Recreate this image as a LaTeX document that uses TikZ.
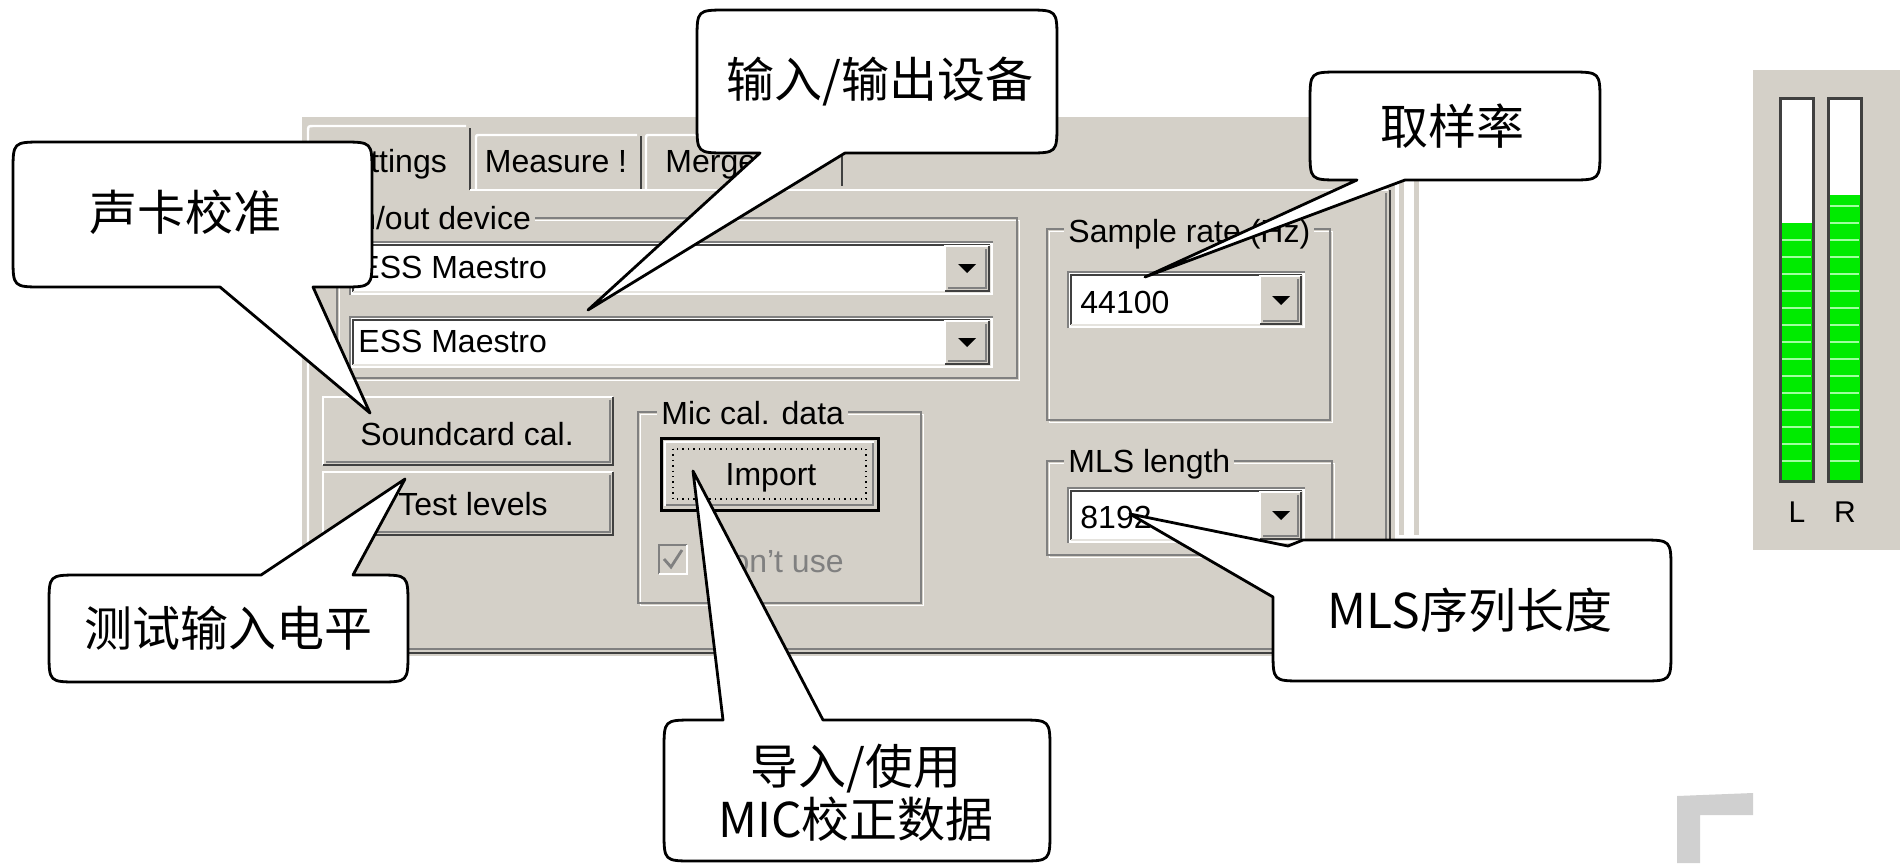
\documentclass[tikz,border=0pt]{standalone}
\usepackage{fontspec}
\setmainfont{Liberation Sans}
\newfontfamily\cjk{Noto Sans CJK SC}
\definecolor{panel}{RGB}{212,208,200}
\definecolor{shadow}{RGB}{128,128,128}
\definecolor{dkshadow}{RGB}{64,64,64}
\definecolor{meter}{RGB}{0,235,0}
\definecolor{meterline}{RGB}{160,255,160}
\definecolor{ghost}{RGB}{208,208,208}
\def\bubr{30}
\newcommand{\raisedbox}[4]{%
  \fill[panel] (#1,#2) rectangle (#3,#4);
  \draw[white, line width=1.2pt] (#1,#4) -- (#1,#2) -- (#3,#2);
  \draw[dkshadow, line width=1.2pt] (#1,#4) -- (#3,#4) -- (#3,#2);
  \draw[shadow, line width=1pt] ({#1+3},{#4-3}) -- ({#3-3},{#4-3}) -- ({#3-3},{#2+3});
}
\newcommand{\sunkenbox}[4]{%
  \fill[white] (#1,#2) rectangle (#3,#4);
  \draw[shadow, line width=1.2pt] (#1,#4) -- (#1,#2) -- (#3,#2);
  \draw[dkshadow, line width=1pt] ({#1+3},{#4-3}) -- ({#1+3},{#2+3}) -- ({#3-3},{#2+3});
  \draw[panel!60!white, line width=1pt] ({#1+3},{#4-3}) -- ({#3-3},{#4-3}) -- ({#3-3},{#2+3});
}
\newcommand{\droparrow}[2]{\fill[black] ({#1-9},{#2-4}) -- ({#1+9},{#2-4}) -- (#1,{#2+5}) -- cycle;}
\newcommand{\groupbox}[4]{%
  \draw[white, line width=0.9pt] ({#1+2.5},{#2+2.5}) rectangle ({#3+2.5},{#4+2.5});
  \draw[shadow, line width=0.9pt] (#1,#2) rectangle (#3,#4);
}
\newcommand{\calloutdown}[7]{%
  \draw[bubble] ({#1+\bubr},#2) -- ({#3-\bubr},#2) .. controls (#3,#2) .. (#3,{#2+\bubr})
    -- (#3,{#4-\bubr}) .. controls (#3,#4) .. ({#3-\bubr},#4) -- (#6,#4) -- (#7) -- (#5,#4)
    -- ({#1+\bubr},#4) .. controls (#1,#4) .. (#1,{#4-\bubr}) -- (#1,{#2+\bubr})
    .. controls (#1,#2) .. ({#1+\bubr},#2) -- cycle;
}
\newcommand{\calloutup}[7]{%
  \draw[bubble] ({#1+\bubr},#2) -- (#5,#2) -- (#7) -- (#6,#2) -- ({#3-\bubr},#2)
    .. controls (#3,#2) .. (#3,{#2+\bubr})
    -- (#3,{#4-\bubr}) .. controls (#3,#4) .. ({#3-\bubr},#4)
    -- ({#1+\bubr},#4) .. controls (#1,#4) .. (#1,{#4-\bubr}) -- (#1,{#2+\bubr})
    .. controls (#1,#2) .. ({#1+\bubr},#2) -- cycle;
}
\begin{document}
\begin{tikzpicture}[x=0.5pt,y=-0.5pt,
  bubble/.style={fill=white, draw=black, line width=1.4pt, line join=round},
  btext/.style={font={\cjk\fontsize{24}{26.5}\selectfont}, inner sep=0pt},
  ui/.style={font={\fontsize{16}{19}\selectfont}, inner sep=0pt},
  lbl/.style={font={\fontsize{16}{19}\selectfont}, inner xsep=2pt, inner ysep=0pt, fill=panel},
  meterlbl/.style={font={\fontsize{15}{18}\selectfont}, inner sep=0pt}]
\useasboundingbox (0,0) rectangle (1904,863);
\fill[white] (0,0) rectangle (1904,863);

% ---------- dialog panel ----------
\fill[panel] (302,117) rectangle (1395,656);
\fill[panel] (1399,180) rectangle (1419,535);
\fill[white] (1404,180) rectangle (1414,535);
% tabs
\draw[white, line width=1.2pt] (308,650) -- (308,132) .. controls (308,126) .. (314,126) -- (466,126);
\draw[dkshadow, line width=1.2pt] (470,128) -- (470,190);
\draw[white, line width=1.2pt] (470,190) -- (1388,190);
\draw[white, line width=1.2pt] (476,189) -- (476,139) .. controls (476,135) .. (480,135) -- (637,135);
\draw[dkshadow, line width=1.2pt] (641,136) -- (641,189);
\draw[white, line width=1.2pt] (646,189) -- (646,139) .. controls (646,135) .. (650,135) -- (838,135);
\draw[dkshadow, line width=1.2pt] (842,136) -- (842,186);
\draw[dkshadow, line width=1.4pt] (1390,190) -- (1390,653) -- (304,653);
\draw[shadow, line width=1pt] (1386,193) -- (1386,649) -- (310,649);
\node[ui, anchor=base] (tabS) at (389,172) {Settings};
\node[ui, anchor=base] (tabM) at (556,172) {Measure !};
\node[ui, anchor=base west] (tabG) at (665,172) {Merge};

% in/out device group
\groupbox{337}{218}{1017}{378}
\node[lbl, anchor=base west] (ioLbl) at (345,229) {In/out device};
\sunkenbox{350}{242}{993}{295}
\raisedbox{945}{246}{989}{291}
\droparrow{967}{268}
\node[ui, anchor=base west] (dev1) at (358,278) {ESS Maestro};
\sunkenbox{350}{317}{993}{368}
\raisedbox{945}{321}{989}{364}
\droparrow{967}{342}
\node[ui, anchor=base west] (dev2) at (358,352) {ESS Maestro};

% buttons
\raisedbox{323}{397}{613}{465}
\node[ui, anchor=base] (scal) at (467,445) {Soundcard cal.};
\raisedbox{323}{472}{613}{535}
\node[ui, anchor=base] (tlev) at (473,515) {Test levels};

% mic cal group
\groupbox{638}{412}{921}{603}
\node[lbl, anchor=base west] (micLbl) at (657,424) {Mic cal. data};
\fill[panel] (661,438) rectangle (878,510);
\draw[black, line width=1.5pt] (661,438) rectangle (878,510);
\draw[white, line width=1pt] (665,506) -- (665,442) -- (874,442);
\draw[shadow, line width=1pt] (666,505) -- (873,505) -- (873,443);
\draw[black, dotted, line width=0.7pt] (673,449) rectangle (866,499);
\node[ui, anchor=base] (imp) at (771,485) {Import};
\fill[panel] (659,545) rectangle (687,574);
\draw[shadow, line width=1pt] (659,574) -- (659,545) -- (687,545);
\draw[white, line width=1pt] (659,574) -- (687,574) -- (687,545);
\draw[shadow, line width=1.4pt] (664,559) -- (671,567) -- (682,550);
\node[ui, anchor=base west, text=shadow] (dont) at (708,572) {Don't use};

% sample rate group
\groupbox{1047}{229}{1330}{420}
\node[lbl, anchor=base west] (srLbl) at (1064,242) {Sample rate (Hz)};
\sunkenbox{1068}{272}{1305}{328}
\raisedbox{1260}{276}{1301}{324}
\droparrow{1281}{300}
\node[ui, anchor=base west] (srVal) at (1080,313) {44100};

% MLS group
\groupbox{1047}{461}{1332}{555}
\node[lbl, anchor=base west] (mlsLbl) at (1064,472) {MLS length};
\sunkenbox{1068}{488}{1305}{543}
\raisedbox{1260}{492}{1301}{539}
\droparrow{1281}{515}
\node[ui, anchor=base west] (mlsVal) at (1080,528) {8192};

% ---------- level meter ----------
\fill[panel] (1753,70) rectangle (1900,550);
\fill[white] (1780,98) rectangle (1813,481);
\fill[meter] (1780,223) rectangle (1813,481);
\foreach \k in {1,...,14} {\draw[meterline, line width=0.7pt] (1782,{478-17*\k}) -- (1811,{478-17*\k});}
\draw[dkshadow, line width=1.5pt] (1780,98) rectangle (1813,481);
\fill[white] (1828,98) rectangle (1861,481);
\fill[meter] (1828,195) rectangle (1861,481);
\foreach \k in {1,...,16} {\draw[meterline, line width=0.7pt] (1830,{478-17*\k}) -- (1859,{478-17*\k});}
\draw[dkshadow, line width=1.5pt] (1828,98) rectangle (1861,481);
\node[meterlbl, anchor=base] (lblL) at (1797,522) {L};
\node[meterlbl, anchor=base] (lblR) at (1845,522) {R};

% ghost corner
\fill[ghost] (1677,796) -- (1753,793) -- (1753,815) -- (1700,815) -- (1700,863) -- (1677,863) -- cycle;

% ---------- callouts ----------
\coordinate (calTip) at (370,413);
\coordinate (ioTip) at (588,310);
\coordinate (srTip) at (1145,277);
\coordinate (tlTip) at (405,479);
\coordinate (mlsTip) at (1130,514);
\coordinate (micTip) at (693,471);

\calloutdown{13}{142}{372}{287}{220}{313}{calTip}
\node[btext] (cal) at (185,212) {声卡校准};

\calloutdown{697}{10}{1057}{153}{760}{845}{ioTip}
\node[btext] (io) at (880,82) {输入/输出设备};

\calloutdown{1310}{72}{1600}{180}{1357}{1405}{srTip}
\node[btext] (sr) at (1452,126) {取样率};

\calloutup{49}{575}{408}{682}{261}{353}{tlTip}
\node[btext] (tl) at (228,628) {测试输入电平};

\calloutup{664}{720}{1050}{861}{723}{823}{micTip}
\node[btext, align=center] (mic) at (856,793) {导入/使用\\MIC校正数据};

\draw[bubble] (1303,540) -- (1641,540) .. controls (1671,540) .. (1671,570)
  -- (1671,651) .. controls (1671,681) .. (1641,681) -- (1303,681)
  .. controls (1273,681) .. (1273,651) -- (1273,597) -- (mlsTip) -- (1288,546) -- cycle;
\node[btext] (mls) at (1470,610) {MLS序列长度};
\end{tikzpicture}
\end{document}
